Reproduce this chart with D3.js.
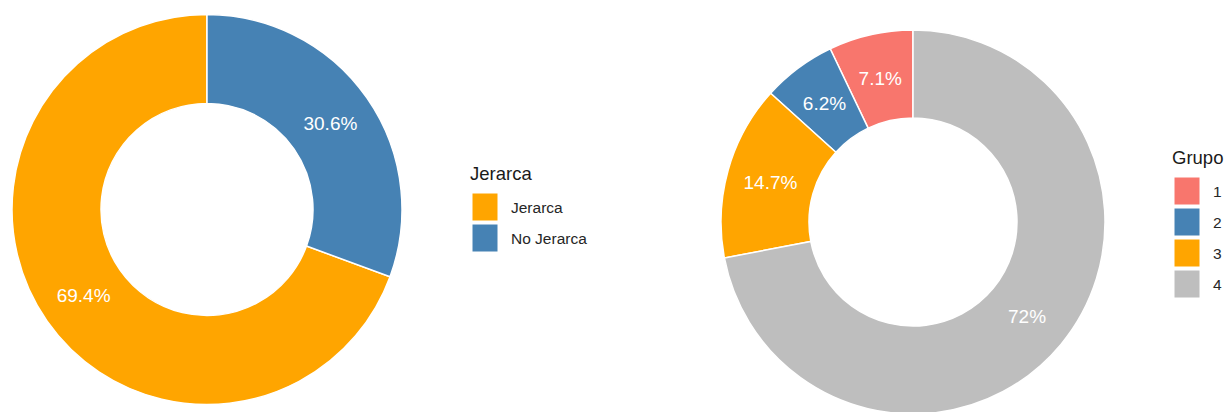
<!DOCTYPE html>
<html>
<head>
<meta charset="utf-8">
<script src="https://cdn.jsdelivr.net/npm/d3@7"></script>
<style>
  html, body { margin: 0; padding: 0; background: #fff; }
  svg { display: block; font-family: "Liberation Sans", Arial, Helvetica, sans-serif; }
</style>
</head>
<body>
<svg id="chart" width="1227" height="412"></svg>
<script>
// Left donut: share of "Jerarca"
const jerarcaCategories = ["Jerarca", "No Jerarca"];
const jerarcaValues = [69.4, 30.6];
const jerarcaColors = ["#FFA500", "#4682B4"];

// Right donut: share per "Grupo"
const grupoCategories = ["1", "2", "3", "4"];
const grupoValues = [7.1, 6.2, 14.7, 72];
const grupoColors = ["#F8766D", "#4682B4", "#FFA500", "#BEBEBE"];

const svg = d3.select("#chart");

function donut(opts) {
  const { cx, cy, outer, inner, categories, values, colors, title, legendX, legendY } = opts;
  const data = categories.map((c, i) => ({ cat: c, value: values[i] }));
  const color = d3.scaleOrdinal().domain(categories).range(colors);

  // slices run counter-clockwise from 12 o'clock in category order
  const pie = d3.pie().value(d => d.value).sort(null)
    .startAngle(0).endAngle(-2 * Math.PI);
  const arcs = pie(data);
  const arc = d3.arc().innerRadius(inner).outerRadius(outer);
  const labelArc = d3.arc().innerRadius((inner + outer) / 2).outerRadius((inner + outer) / 2);

  const g = svg.append("g").attr("transform", `translate(${cx},${cy})`);
  g.selectAll("path").data(arcs).join("path")
    .attr("d", arc)
    .attr("fill", d => color(d.data.cat))
    .attr("stroke", "#fff")
    .attr("stroke-width", 1.5);

  g.selectAll("text").data(arcs).join("text")
    .attr("transform", d => `translate(${labelArc.centroid(d)})`)
    .attr("text-anchor", "middle")
    .attr("dy", "0.36em")
    .attr("fill", "#fff")
    .attr("font-size", 19)
    .text(d => `${d.data.value}%`);

  // legend
  const lg = svg.append("g").attr("transform", `translate(${legendX},${legendY})`);
  lg.append("text")
    .attr("x", 0).attr("y", 0)
    .attr("font-size", 18.5)
    .attr("fill", "#1a1a1a")
    .text(title);
  const keyStep = 31;
  const key = d3.scaleBand().domain(categories)
    .range([13, 13 + keyStep * categories.length]).paddingInner(0);
  const items = lg.selectAll("g.item").data(categories).join("g")
    .attr("class", "item")
    .attr("transform", c => `translate(0,${key(c)})`);
  items.append("rect")
    .attr("x", 2).attr("y", 0)
    .attr("width", 26).attr("height", 28)
    .attr("fill", c => color(c))
    .attr("stroke", "#fff").attr("stroke-width", 1);
  items.append("text")
    .attr("x", 41).attr("y", 14)
    .attr("dy", "0.36em")
    .attr("font-size", 15.5)
    .attr("fill", "#262626")
    .text(c => c);
}

donut({
  cx: 207, cy: 209.5, outer: 195, inner: 106,
  categories: jerarcaCategories, values: jerarcaValues, colors: jerarcaColors,
  title: "Jerarca", legendX: 470, legendY: 180
});

donut({
  cx: 913, cy: 222, outer: 192, inner: 104,
  categories: grupoCategories, values: grupoValues, colors: grupoColors,
  title: "Grupo", legendX: 1172, legendY: 164
});
</script>
</body>
</html>
